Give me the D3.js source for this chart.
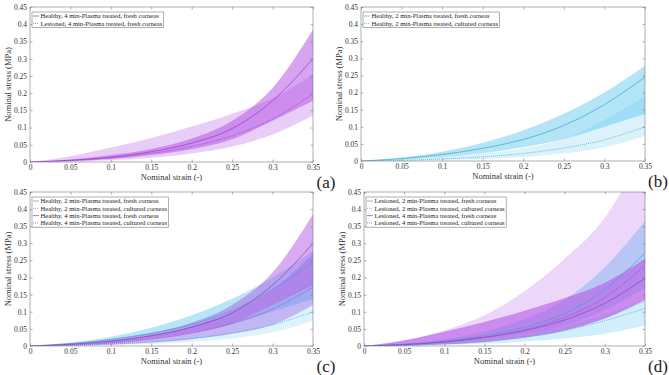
<!DOCTYPE html>
<html>
<head>
<meta charset="utf-8">
<script src="https://cdn.jsdelivr.net/npm/d3@7"></script>
<style>
  body { margin: 0; background: #fff; }
  svg { display: block; font-family: "Liberation Serif", "Times New Roman", serif; }
</style>
</head>
<body>
<svg id="chart" width="669" height="375"></svg>
<script>
// strain points (-)
var strain = [0, 0.05, 0.1, 0.15, 0.2, 0.25, 0.3, 0.35];
var xTicks = [0, 0.05, 0.1, 0.15, 0.2, 0.25, 0.3, 0.35];
var yTicks = [0, 0.05, 0.1, 0.15, 0.2, 0.25, 0.3, 0.35, 0.4, 0.45];

// nominal stress (MPa): mean, lower and upper band
var h4fMean = [0, 0.005, 0.014, 0.03, 0.055, 0.097, 0.178, 0.30];
var h4fLo   = [0, 0.003, 0.009, 0.02, 0.037, 0.066, 0.12, 0.178];
var h4fHi   = [0, 0.007, 0.02, 0.038, 0.068, 0.12, 0.215, 0.385];

var l4fMean = [0, 0.004, 0.012, 0.025, 0.045, 0.076, 0.125, 0.198];
var l4fLo   = [0, 0.001, 0.005, 0.012, 0.025, 0.045, 0.08, 0.135];
var l4fHi   = [0, 0.017, 0.042, 0.07, 0.103, 0.14, 0.185, 0.255];

var h2fMean = [0, 0.007, 0.019, 0.037, 0.063, 0.104, 0.165, 0.245];
var h2fLo   = [0, 0.004, 0.011, 0.023, 0.04, 0.064, 0.1, 0.137];
var h2fHi   = [0, 0.01, 0.027, 0.053, 0.09, 0.138, 0.2, 0.278];

var h2cMean = [0, 0.002, 0.006, 0.012, 0.022, 0.038, 0.062, 0.1];
var h2cLo   = [0, 0.001, 0.003, 0.006, 0.012, 0.022, 0.04, 0.073];
var h2cHi   = [0, 0.004, 0.011, 0.021, 0.037, 0.065, 0.12, 0.19];

var h4cMean = [0, 0.003, 0.009, 0.02, 0.038, 0.066, 0.108, 0.172];
var h4cLo   = [0, 0.001, 0.004, 0.01, 0.02, 0.036, 0.062, 0.12];
var h4cHi   = [0, 0.005, 0.015, 0.032, 0.058, 0.1, 0.165, 0.27];

var l2fMean = [0, 0.005, 0.014, 0.03, 0.055, 0.095, 0.165, 0.272];
var l2fLo   = [0, 0.003, 0.009, 0.019, 0.035, 0.06, 0.105, 0.17];
var l2fHi   = [0, 0.007, 0.02, 0.042, 0.078, 0.135, 0.23, 0.365];

var l2cMean = [0, 0.002, 0.006, 0.013, 0.025, 0.045, 0.074, 0.11];
var l2cLo   = [0, 0.001, 0.003, 0.007, 0.013, 0.022, 0.036, 0.06];
var l2cHi   = [0, 0.003, 0.009, 0.019, 0.034, 0.058, 0.092, 0.135];

var l4cMean = [0, 0.004, 0.012, 0.026, 0.048, 0.084, 0.142, 0.235];
var l4cLo   = [0, 0.002, 0.006, 0.013, 0.025, 0.045, 0.08, 0.13];
var l4cHi   = [0, 0.015, 0.045, 0.09, 0.16, 0.255, 0.375, 0.58];

var cyan = '#49c0ec', cyanLine = '#3aa6cc';
var purple = '#b45ae6', purpleLine = '#9638c4';

var series = {
  h4f: {label: 'Healthy, 4 min-Plasma treated, fresh corneas', mean: h4fMean, lo: h4fLo, hi: h4fHi, fill: purple, line: purpleLine, dash: null},
  l4f: {label: 'Lesioned, 4 min-Plasma treated, fresh corneas', mean: l4fMean, lo: l4fLo, hi: l4fHi, fill: purple, line: purpleLine, dash: '1,1'},
  h2f: {label: 'Healthy, 2 min-Plasma treated, fresh corneas', mean: h2fMean, lo: h2fLo, hi: h2fHi, fill: cyan, line: cyanLine, dash: null},
  h2c: {label: 'Healthy, 2 min-Plasma treated, cultured corneas', mean: h2cMean, lo: h2cLo, hi: h2cHi, fill: cyan, line: cyanLine, dash: '1,1'},
  h4c: {label: 'Healthy, 4 min-Plasma treated, cultured corneas', mean: h4cMean, lo: h4cLo, hi: h4cHi, fill: '#9a5ae8', line: purpleLine, dash: '1,1'},
  l2f: {label: 'Lesioned, 2 min-Plasma treated, fresh corneas', mean: l2fMean, lo: l2fLo, hi: l2fHi, fill: '#5aa8f0', line: cyanLine, dash: null},
  l2c: {label: 'Lesioned, 2 min-Plasma treated, cultured corneas', mean: l2cMean, lo: l2cLo, hi: l2cHi, fill: cyan, line: cyanLine, dash: '1,1'},
  l4f4: {label: 'Lesioned, 4 min-Plasma treated, fresh corneas', mean: l4fMean, lo: l4fLo, hi: l4fHi, fill: purple, line: purpleLine, dash: null},
  l4c: {label: 'Lesioned, 4 min-Plasma treated, cultured corneas', mean: l4cMean, lo: l4cLo, hi: l4cHi, fill: purple, line: purpleLine, dash: '1,1'}
};

var panels = [
  {id: 'a', box: [30, 7, 313, 162], order: [['l4f', 0.3], ['h4f', 0.55]], legend: ['h4f', 'l4f']},
  {id: 'b', box: [361, 7, 645, 161], order: [['h2c', 0.2], ['h2f', 0.42]], legend: ['h2f', 'h2c']},
  {id: 'c', box: [30, 192, 313, 346], order: [['h2c', 0.18], ['h2f', 0.4], ['h4c', 0.4], ['h4f', 0.5]], legend: ['h2f', 'h2c', 'h4f', 'h4c']},
  {id: 'd', box: [364, 192, 645, 346], order: [['l4c', 0.25], ['l2c', 0.25], ['l2f', 0.35], ['l4f4', 0.6]], legend: ['l2f', 'l2c', 'l4f4', 'l4c']}
];

var svg = d3.select('#chart');
var fmt = function(v) { return String(+v.toFixed(2)); };
var axisColor = '#7a7a7a';

panels.forEach(function(p) {
  var L = p.box[0], T = p.box[1], R = p.box[2], B = p.box[3];
  var x = d3.scaleLinear().domain([0, 0.35]).range([L, R]);
  var y = d3.scaleLinear().domain([0, 0.45]).range([B, T]);
  var g = svg.append('g');

  svg.append('clipPath').attr('id', 'clip-' + p.id)
    .append('rect').attr('x', L).attr('y', T).attr('width', R - L).attr('height', B - T);

  var plot = g.append('g').attr('clip-path', 'url(#clip-' + p.id + ')');

  var area = d3.area().curve(d3.curveMonotoneX)
    .x(function(d, i) { return x(strain[i]); })
    .y0(function(d) { return y(d[0]); })
    .y1(function(d) { return y(d[1]); });
  var line = d3.line().curve(d3.curveMonotoneX)
    .x(function(d, i) { return x(strain[i]); })
    .y(function(d) { return y(d); });

  p.order.forEach(function(o) {
    var s = series[o[0]];
    plot.append('path')
      .attr('d', area(s.lo.map(function(v, i) { return [v, s.hi[i]]; })))
      .attr('fill', s.fill).attr('fill-opacity', o[1]);
  });
  p.order.forEach(function(o) {
    var s = series[o[0]];
    plot.append('path')
      .attr('d', line(s.mean))
      .attr('fill', 'none').attr('stroke', s.line).attr('stroke-width', 0.7)
      .attr('stroke-dasharray', s.dash);
  });

  // box
  g.append('rect').attr('x', L).attr('y', T).attr('width', R - L).attr('height', B - T)
    .attr('fill', 'none').attr('stroke', axisColor).attr('stroke-width', 0.6);

  var xa = d3.axisBottom(x).tickValues(xTicks).tickSize(-2.5).tickPadding(3).tickFormat(fmt);
  var xt = d3.axisTop(x).tickValues(xTicks).tickSize(-2.5).tickFormat('');
  var ya = d3.axisLeft(y).tickValues(yTicks).tickSize(-2.5).tickPadding(3).tickFormat(fmt);
  var yr = d3.axisRight(y).tickValues(yTicks).tickSize(-2.5).tickFormat('');

  [[xa, 'translate(0,' + B + ')'], [xt, 'translate(0,' + T + ')'],
   [ya, 'translate(' + L + ',0)'], [yr, 'translate(' + R + ',0)']].forEach(function(a) {
    var ax = g.append('g').attr('transform', a[1]).call(a[0]);
    ax.attr('font-family', null).attr('font-size', null);
    ax.select('.domain').remove();
    ax.selectAll('line').attr('stroke', axisColor).attr('stroke-width', 0.6);
    ax.selectAll('text').attr('font-size', 7.5).attr('fill', '#333');
  });

  g.append('text').attr('x', (L + R) / 2).attr('y', B + 18)
    .attr('text-anchor', 'middle').attr('font-size', 8.5).attr('fill', '#333')
    .text('Nominal strain (-)');
  g.append('text')
    .attr('transform', 'translate(' + (L - 19) + ',' + ((T + B) / 2) + ') rotate(-90)')
    .attr('text-anchor', 'middle').attr('font-size', 8.5).attr('fill', '#333')
    .text('Nominal stress (MPa)');

  g.append('text').attr('x', R + 13).attr('y', B + 25.5)
    .attr('text-anchor', 'middle').attr('font-size', 17).attr('fill', '#222')
    .text('(' + p.id + ')');

  // legend
  var lg = g.append('g').attr('transform', 'translate(' + (L + 2) + ',' + (T + 5) + ')');
  var bg = lg.append('rect').attr('fill', '#fff').attr('stroke', axisColor).attr('stroke-width', 0.6);
  var maxW = 0;
  p.legend.forEach(function(k, i) {
    var s = series[k];
    var yy = 4 + i * 7.3;
    lg.append('line').attr('x1', 1).attr('x2', 7).attr('y1', yy).attr('y2', yy)
      .attr('stroke', s.line).attr('stroke-width', 0.7).attr('stroke-dasharray', s.dash);
    var t = lg.append('text').attr('x', 8.5).attr('y', yy + 2.2)
      .attr('font-size', 6.6).attr('fill', '#222').text(s.label);
    maxW = Math.max(maxW, t.node().getComputedTextLength());
  });
  bg.attr('width', 10 + maxW).attr('height', 1 + p.legend.length * 7.3);
});
</script>
</body>
</html>
